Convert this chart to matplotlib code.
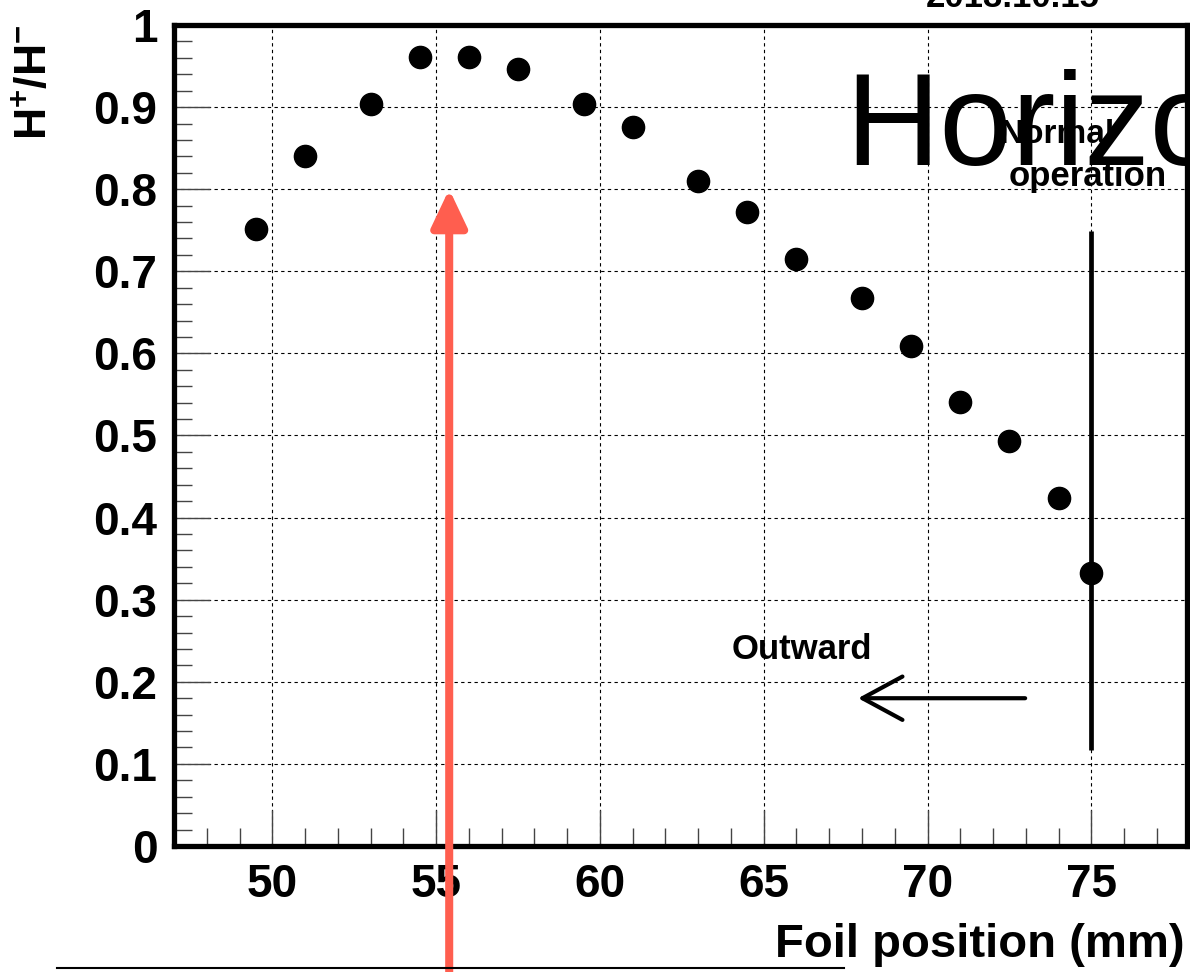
import matplotlib
matplotlib.use('Agg')
import matplotlib.pyplot as plt
from matplotlib.lines import Line2D

plt.rcParams['font.family'] = ['Liberation Sans', 'DejaVu Sans']
plt.rcParams['mathtext.fontset'] = 'custom'
plt.rcParams['mathtext.rm'] = 'Liberation Sans'
plt.rcParams['mathtext.bf'] = 'Liberation Sans:bold'

# foil position scan, H+/H- ratio
foil_pos = [49.5, 51, 53, 54.5, 56, 57.5, 59.5, 61, 63, 64.5, 66, 68, 69.5, 71, 72.5, 74, 75]
ratio = [0.751, 0.840, 0.904, 0.961, 0.961, 0.946, 0.904, 0.876, 0.810, 0.772,
         0.715, 0.667, 0.609, 0.541, 0.493, 0.424, 0.332]

normal_pos = 75
normal_range = (0.117, 0.749)
best_pos = 55.4
best_tip = 0.8
outward_from = 72.98
outward_to = 67.88
outward_y = 0.18

x_ticks = [50, 55, 60, 65, 70, 75]
y_ticks = [0, 0.1, 0.2, 0.3, 0.4, 0.5, 0.6, 0.7, 0.8, 0.9, 1]
y_ticklabels = ['0', '0.1', '0.2', '0.3', '0.4', '0.5', '0.6', '0.7', '0.8', '0.9', '1']

W, H = 1190, 972
fig = plt.figure(figsize=(W / 100, H / 100), dpi=100)
ax = fig.add_axes([174 / W, 1 - 846 / H, (1187 - 174) / W, (846 - 25) / H])

ax.plot(foil_pos, ratio, 'o', color='black', markersize=16, zorder=5)
ax.vlines(normal_pos, normal_range[0], normal_range[1], color='black', lw=3.4, zorder=4)

ax.set_xlim(47, 77.92)
ax.set_ylim(0, 1.0)

ax.set_xticks(x_ticks)
ax.set_xticks(range(48, 78), minor=True)
ax.set_yticks(y_ticks)
ax.set_yticklabels(y_ticklabels)
ax.set_yticks([i * 0.02 for i in range(51)], minor=True)
ax.tick_params(which='both', direction='in', top=False, right=False, width=1, color='#444444')
ax.tick_params(which='major', length=26, labelsize=33, pad=12)
ax.tick_params(which='minor', length=13)
for lab in ax.get_xticklabels() + ax.get_yticklabels():
    lab.set_fontweight('bold')

ax.grid(True, which='major', color='black', linestyle=(0, (3, 3)), linewidth=0.8)
for sp in ax.spines.values():
    sp.set_linewidth(3.8)

# labels
fig.text(1185 / W, 1 - 957 / H, 'Foil position (mm)', ha='right', va='baseline',
         fontsize=34, fontweight='bold')
fig.text(35 / W, 1 - 24 / H, r'$\mathbf{H^{+}/H^{-}}$', rotation=90, ha='center', va='top',
         fontsize=32)

# annotations
ax.text(67.5, 0.83, 'Horizontal', fontsize=94, ha='left', va='baseline', clip_on=True)
ax.text(73.95, 0.856, 'Normal', fontsize=24, fontweight='bold', ha='center', va='baseline')
ax.text(74.9, 0.804, 'operation', fontsize=25, fontweight='bold', ha='center', va='baseline')
ax.text(66.15, 0.228, 'Outward', fontsize=25, fontweight='bold', ha='center', va='baseline')
fig.text(1013 / W, 1 - 7 / H, '2013.10.15', fontsize=25, fontweight='bold', ha='center',
         va='baseline')

ax.annotate('', xy=(outward_to, outward_y), xytext=(outward_from, outward_y),
            arrowprops=dict(arrowstyle='->,head_length=1.2,head_width=0.65', lw=3,
                            color='black', shrinkA=0, shrinkB=0, mutation_scale=24))

ax.annotate('', xy=(best_pos, best_tip), xycoords='data',
            xytext=(best_pos, 0), textcoords=('data', 'figure fraction'),
            arrowprops=dict(arrowstyle='-|>,head_length=0.95,head_width=0.45', lw=5.8,
                            color='#ff5e4f', shrinkA=0, shrinkB=0, mutation_scale=24),
            annotation_clip=False, zorder=6)

fig.add_artist(Line2D([57 / W, 844 / W], [1 - 968 / H, 1 - 968 / H], color='black', lw=1.5))

fig.savefig('out.png', dpi=100)
